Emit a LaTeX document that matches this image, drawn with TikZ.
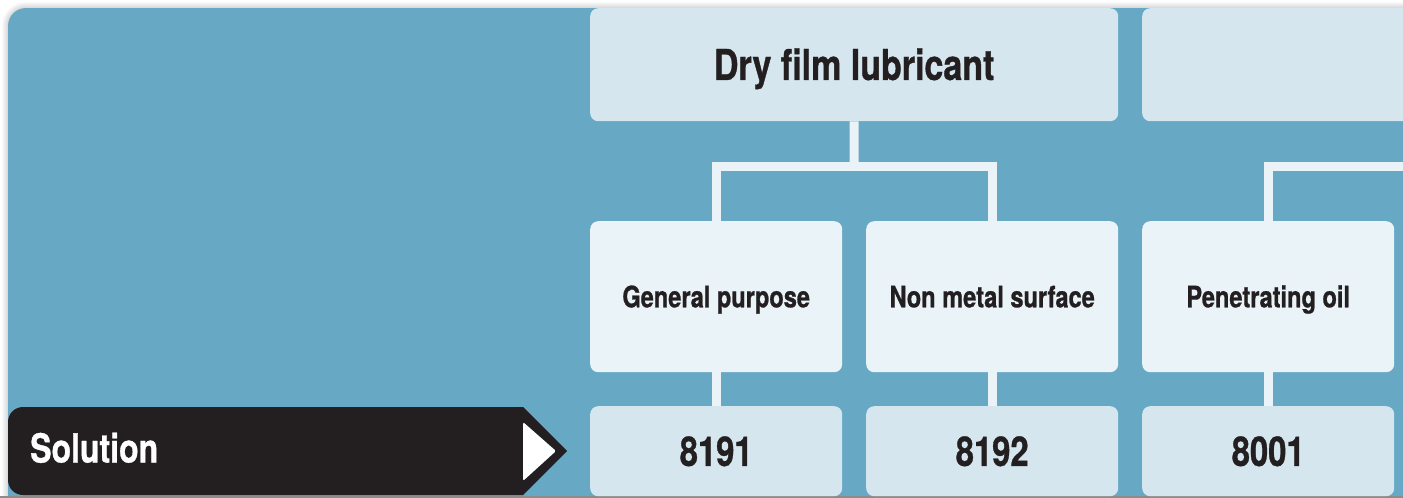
\documentclass[tikz,border=0pt]{standalone}
\usepackage{fontspec}
\newfontfamily\cond[FakeStretch=0.8, BoldFeatures={FakeBold=0.8}]{TeX Gyre Heros}
\definecolor{bgblue}{HTML}{67A8C4}
\definecolor{boxa}{HTML}{D5E6EE}
\definecolor{boxb}{HTML}{EAF3F7}
\definecolor{ink}{HTML}{231F20}
\tikzset{
  topbox/.style={fill=boxa, rounded corners=8pt, minimum width=528pt, minimum height=113pt, anchor=north west, inner sep=0pt, font=\cond\bfseries\fontsize{42.5}{46}\selectfont, text=ink, text height=30.5pt, text depth=0pt},
  midbox/.style={fill=boxb, rounded corners=8pt, minimum width=252pt, minimum height=151pt, anchor=north west, inner sep=0pt, font=\cond\bfseries\fontsize{29.5}{33}\selectfont, text=ink, text height=21.2pt, text depth=0pt},
  numbox/.style={fill=boxa, rounded corners=8pt, minimum width=252pt, minimum height=90pt, anchor=north west, inner sep=0pt, font=\cond\bfseries\fontsize{41}{45}\selectfont, text=ink, text height=29.5pt, text depth=0pt},
  conn/.style={draw=boxb, line width=9pt, line join=miter, line cap=butt},
}
\begin{document}
\begin{tikzpicture}[x=1pt,y=-1pt]
\useasboundingbox (0,0) rectangle (1403,498);
\clip (0,0) rectangle (1403,498);
\fill[white] (0,0) rectangle (1403,498);
% soft shadow
\foreach \i in {1,...,6}{
  \fill[black,opacity=0.025] (1410,8-\i) -- (26,8-\i) arc[start angle=270,end angle=180,radius=18+\i] -- (8-\i,500) -- (1410,500) -- cycle;
}
% blue background
\fill[bgblue] (1410,8) -- (26,8) arc[start angle=270,end angle=180,radius=18] -- (8,496) -- (1410,496) -- cycle;
\fill[black!45] (0,496) rectangle (1403,498);

% top boxes
\node[topbox] (dry) at (590,8) {Dry film lubricant};
\node[topbox] (top2) at (1142,8) {};
% middle boxes
\node[midbox] (gp) at (590,221) {General purpose};
\node[midbox] (nm) at (866,221) {Non metal surface};
\node[midbox] (po) at (1142,221) {Penetrating oil};
% bottom boxes
\node[numbox] (n1) at (590,406) {8191};
\node[numbox] (n2) at (866,406) {8192};
\node[numbox] (n3) at (1142,406) {8001};

% connectors
\coordinate (j1) at (854,166.5);
\coordinate (j2) at (1420,166.5);
\draw[conn] (dry.south) -- (j1);
\draw[conn] (gp.north) |- (j1) -| (nm.north);
\draw[conn] (po.north) |- (j2);
\draw[conn] (gp.south) -- (n1.north);
\draw[conn] (nm.south) -- (n2.north);
\draw[conn] (po.south) -- (n3.north);

% Solution tag
\fill[ink] (523,407) -- (567,451) -- (523,495) -- (23,495) arc[start angle=90,end angle=180,radius=15] -- (8,422) arc[start angle=180,end angle=270,radius=15] -- cycle;
\fill[white, rounded corners=1.5pt] (523,422) -- (556,451) -- (523,481) -- cycle;
\node[anchor=west, inner sep=0pt, text=white, font=\cond\bfseries\fontsize{40}{44}\selectfont, text height=29pt, text depth=0pt] (sol) at (30,448) {Solution};
\end{tikzpicture}
\end{document}
